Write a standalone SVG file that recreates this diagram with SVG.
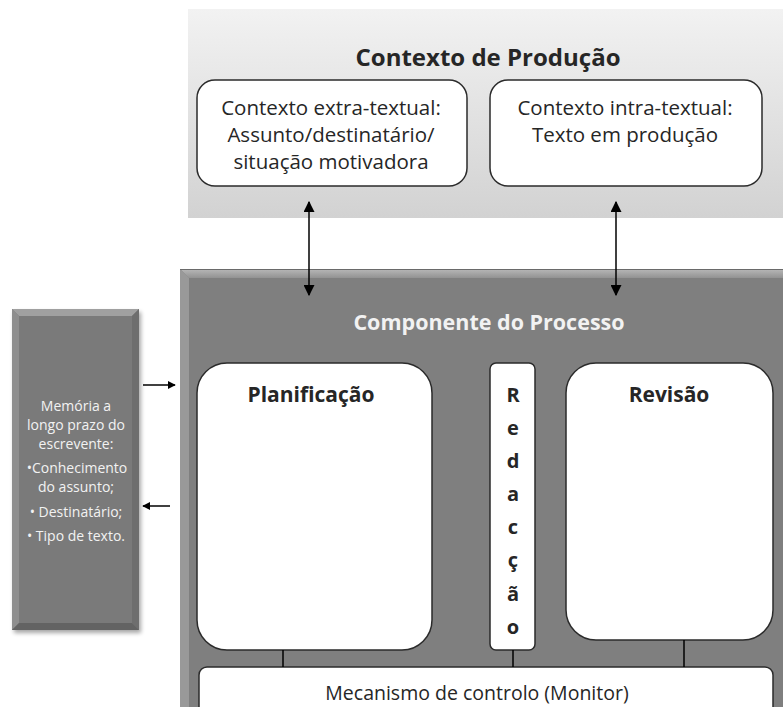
<svg xmlns="http://www.w3.org/2000/svg" width="783" height="707" viewBox="0 0 783 707">
<style>
.t{font-family:"Open Sans","Liberation Sans",sans-serif;fill:#262626;text-anchor:middle}
.b{font-weight:bold}
.w{fill:#f2f2f2}
.wbox{fill:#ffffff;stroke:#2b2b2b;stroke-width:1.5}
.conn{stroke:#000;stroke-width:1.5;fill:none}
</style>
<defs>
<linearGradient id="gTop" x1="0" y1="0" x2="0" y2="1">
<stop offset="0" stop-color="#f2f2f2"/>
<stop offset="1" stop-color="#d2d2d2"/>
</linearGradient>
<linearGradient id="gBevT" x1="0" y1="0" x2="0" y2="1">
<stop offset="0" stop-color="#b8b8b8"/>
<stop offset="1" stop-color="#929292"/>
</linearGradient>
<filter id="sh" x="-10%" y="-10%" width="130%" height="130%">
<feGaussianBlur in="SourceAlpha" stdDeviation="2"/>
<feOffset dx="2" dy="3" result="o"/>
<feComponentTransfer><feFuncA type="linear" slope="0.35"/></feComponentTransfer>
<feMerge><feMergeNode/><feMergeNode in="SourceGraphic"/></feMerge>
</filter>
<marker id="ah" viewBox="0 0 10 10" refX="9" refY="5" markerWidth="8" markerHeight="8" markerUnits="userSpaceOnUse" orient="auto-start-reverse">
<path d="M0,0 L10,5 L0,10 z" fill="#000"/>
</marker>
<marker id="ah2" viewBox="0 0 10 10" refX="9" refY="5" markerWidth="11" markerHeight="11" markerUnits="userSpaceOnUse" orient="auto-start-reverse">
<path d="M0,0 L10,5 L0,10 z" fill="#000"/>
</marker>
</defs>

<g id="contexto-producao">
<rect x="188" y="9" width="595" height="209" fill="url(#gTop)"/>
<text class="t b" x="488" y="66" font-size="24">Contexto de Produção</text>
</g>

<g id="extra-textual">
<rect class="wbox" x="197" y="80" width="270" height="106" rx="18"/>
<text class="t" x="331" y="115" font-size="20.5">Contexto extra-textual:</text>
<text class="t" x="331" y="142" font-size="20.5">Assunto/destinatário/</text>
<text class="t" x="331" y="169" font-size="20.5">situação motivadora</text>
</g>

<g id="intra-textual">
<rect class="wbox" x="490" y="80" width="272" height="106" rx="18"/>
<text class="t" x="625" y="115" font-size="20.5">Contexto intra-textual:</text>
<text class="t" x="625" y="142" font-size="20.5">Texto em produção</text>
</g>

<g id="componente-processo">
<rect x="180" y="269" width="610" height="450" fill="#7f7f7f"/>
<polygon points="180,269 790,269 790,278 189,278" fill="url(#gBevT)"/>
<polygon points="180,269 189,278 189,719 180,719" fill="#999999"/>
<line x1="180" y1="269.5" x2="790" y2="269.5" stroke="#6a6a6a" stroke-width="1"/>
<text class="t b w" x="489" y="330" font-size="21.5">Componente do Processo</text>
</g>

<g id="planificacao">
<rect class="wbox" x="197" y="363" width="235" height="287" rx="30"/>
<text class="t b" x="311" y="402" font-size="21">Planificação</text>
</g>

<g id="redaccao">
<rect class="wbox" x="490" y="363" width="45" height="287" rx="6"/>
<g class="t b" font-size="20">
<text x="513" y="402">R</text>
<text x="513" y="435">e</text>
<text x="513" y="468">d</text>
<text x="513" y="501">a</text>
<text x="513" y="534">c</text>
<text x="513" y="567">ç</text>
<text x="513" y="601">ã</text>
<text x="513" y="634">o</text>
</g>
</g>

<g id="revisao">
<rect class="wbox" x="566" y="363" width="207" height="277" rx="30"/>
<text class="t b" x="669" y="402" font-size="21">Revisão</text>
</g>

<g id="monitor">
<rect class="wbox" x="199" y="667" width="574" height="60" rx="8"/>
<text class="t" x="477" y="700" font-size="19.5">Mecanismo de controlo (Monitor)</text>
</g>

<g id="memoria">
<g filter="url(#sh)">
<rect x="12" y="309" width="127" height="321" fill="#7a7a7a"/>
</g>
<polygon points="12,309 139,309 132,316 19,316" fill="#a0a0a0"/>
<polygon points="12,309 19,316 19,623 12,630" fill="#8e8e8e"/>
<polygon points="139,309 132,316 132,623 139,630" fill="#6e6e6e"/>
<polygon points="12,630 19,623 132,623 139,630" fill="#636363"/>
<g class="t w" font-size="14">
<text x="76" y="411">Memória a</text>
<text x="76" y="430">longo prazo do</text>
<text x="76" y="449">escrevente:</text>
<text x="77" y="473">•Conhecimento</text>
<text x="76" y="492">do assunto;</text>
<text x="76" y="517">• Destinatário;</text>
<text x="76" y="541">• Tipo de texto.</text>
</g>
</g>

<g id="connectors">
<line class="conn" x1="309" y1="202" x2="309" y2="295" marker-start="url(#ah2)" marker-end="url(#ah2)"/>
<line class="conn" x1="616" y1="202" x2="616" y2="295" marker-start="url(#ah2)" marker-end="url(#ah2)"/>
<line class="conn" x1="143" y1="385" x2="175" y2="385" marker-end="url(#ah)"/>
<line class="conn" x1="170" y1="506" x2="143" y2="506" marker-end="url(#ah)"/>
<line class="conn" x1="283" y1="650" x2="283" y2="667"/>
<line class="conn" x1="513" y1="650" x2="513" y2="667"/>
<line class="conn" x1="684" y1="640" x2="684" y2="667"/>
</g>
</svg>
